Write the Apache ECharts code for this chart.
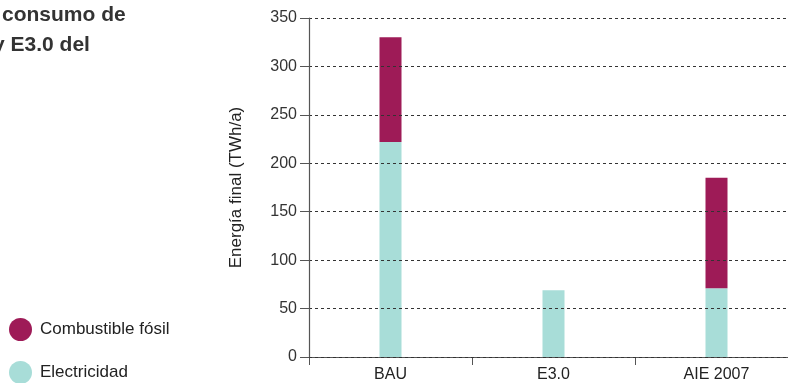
<!DOCTYPE html>
<html><head><meta charset="utf-8">
<script src="https://cdn.jsdelivr.net/npm/echarts@6/dist/echarts.min.js"></script>
<style>html,body{margin:0;padding:0;background:#fff;overflow:hidden}#c{width:798px;height:383px}</style>
</head><body><div id="c"></div>
<script>
const categories = ['BAU', 'E3.0', 'AIE 2007'];
const electricidad = [222, 69, 71];
const combustible = [108, 0, 114];
const yTicks = [0, 50, 100, 150, 200, 250, 300, 350];
const titleLines = ['consumo de', 'y E3.0 del'];

const chart = echarts.init(document.getElementById('c'));
const FONT = '"Liberation Sans", Arial, sans-serif';
const legendText = { fontSize: 17, color: '#222', fontFamily: FONT, padding: [0, 0, 0, 3] };
chart.setOption({
  animation: false,
  textStyle: { fontFamily: FONT },
  grid: { left: 309, right: 0, top: 18, bottom: 25, containLabel: false },
  graphic: [
    { type: 'text', left: 2, top: 5, style: { text: titleLines[0], font: 'bold 21px ' + FONT, fill: '#333' } },
    { type: 'text', left: -7, top: 35, style: { text: titleLines[1], font: 'bold 21px ' + FONT, fill: '#333' } }
  ],
  legend: [
    { left: 4, top: 313, itemWidth: 23, itemHeight: 23, icon: 'circle', itemGap: 0,
      data: ['Combustible fósil'], textStyle: legendText },
    { left: 4, top: 356, itemWidth: 23, itemHeight: 23, icon: 'circle', itemGap: 0,
      data: ['Electricidad'], textStyle: legendText }
  ],
  xAxis: {
    type: 'category', data: categories,
    axisLine: { lineStyle: { color: '#555', width: 1.2 } },
    axisTick: { show: true, length: 8, lineStyle: { color: '#555' } },
    axisLabel: { fontSize: 16, color: '#222', margin: 10 }
  },
  yAxis: {
    type: 'value', min: 0, max: 350, interval: 50, z: 5,
    name: 'Energía final (TWh/a)', nameLocation: 'middle', nameGap: 64,
    nameTextStyle: { fontSize: 17, color: '#222' },
    axisLine: { show: true, lineStyle: { color: '#555', width: 1.2 } },
    axisTick: { show: true, length: 9, lineStyle: { color: '#555' } },
    axisLabel: { fontSize: 16, color: '#333', margin: 12,
      formatter: v => yTicks.includes(v) ? String(v) : '' },
    splitLine: { show: true, lineStyle: { color: '#333', type: [3, 3], width: 1 } }
  },
  series: [
    { name: 'Electricidad', type: 'bar', stack: 't', barWidth: 22, data: electricidad,
      itemStyle: { color: '#A8DDD8' } },
    { name: 'Combustible fósil', type: 'bar', stack: 't', barWidth: 22, data: combustible,
      itemStyle: { color: '#9E1B57' } }
  ]
});
</script></body></html>
